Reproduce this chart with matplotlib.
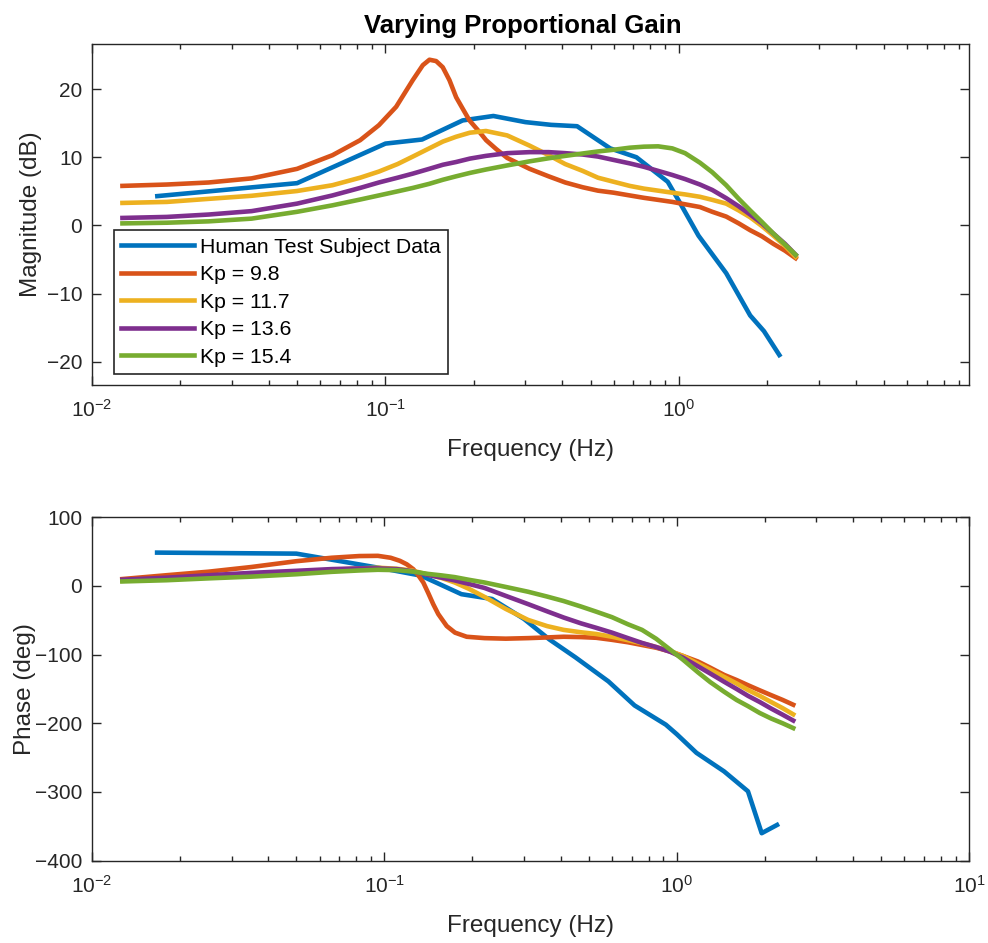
import matplotlib
matplotlib.use("Agg")
import matplotlib.pyplot as plt
from matplotlib.ticker import FixedLocator, LogLocator, NullFormatter, FixedFormatter

plt.rcParams['font.family'] = ['Liberation Sans', 'DejaVu Sans']
plt.rcParams['axes.unicode_minus'] = True
plt.rcParams['mathtext.fontset'] = 'custom'
plt.rcParams['mathtext.rm'] = 'Liberation Sans'
plt.rcParams['mathtext.it'] = 'Liberation Sans:italic'
plt.rcParams['mathtext.bf'] = 'Liberation Sans:bold'
plt.rcParams['mathtext.default'] = 'regular'

# ---------------- data ----------------
title = "Varying Proportional Gain"
series_labels = ["Human Test Subject Data", "Kp = 9.8", "Kp = 11.7", "Kp = 13.6", "Kp = 15.4"]
series_colors = ["#0072BD", "#D95319", "#EDB120", "#7E2F8E", "#77AC30"]

# human test subject (measured points)
subject_freq = [0.0167, 0.05, 0.1, 0.1333, 0.1833, 0.2333, 0.3, 0.3667, 0.45, 0.5833,
                0.7167, 0.9167, 1.0, 1.1667, 1.45, 1.75, 1.95, 2.2]
subject_mag = [4.3, 6.2, 12.0, 12.6, 15.4, 16.05, 15.15, 14.75, 14.55, 11.3,
               10.0, 6.4, 3.6, -1.5, -7.0, -13.2, -15.5, -19.0]
subject_phase = [48.5, 47, 25, 15, -12, -19, -48, -78, -104, -139,
                 -174, -202, -216, -243, -270, -299, -360, -348]

# Kp = 9.8 (read more densely around its resonance)
kp98_mag_freq = [0.0127, 0.018, 0.025, 0.035, 0.05, 0.066, 0.082, 0.095, 0.1088, 0.1239,
                 0.1341, 0.1413, 0.1489, 0.1568, 0.1653, 0.1742, 0.1835, 0.1934, 0.2092, 0.2204,
                 0.2385, 0.26, 0.31, 0.36, 0.41, 0.47, 0.53, 0.6, 0.68, 0.76,
                 0.85, 0.95, 1.05, 1.18, 1.3, 1.45, 1.6, 1.75, 1.92, 2.1, 2.3, 2.5]
kp98_mag = [5.8, 6.0, 6.3, 6.9, 8.3, 10.3, 12.5, 14.7, 17.4, 21.3,
            23.5, 24.3, 24.1, 23.2, 21.3, 18.8, 17.1, 15.4, 13.7, 12.5,
            11.2, 9.9, 8.3, 7.2, 6.3, 5.6, 5.1, 4.8, 4.4, 4.05,
            3.75, 3.45, 3.1, 2.7, 2.0, 1.3, 0.3, -0.7, -1.6, -2.7, -3.7, -4.8]
kp98_phase_freq = [0.0127, 0.018, 0.025, 0.035, 0.05, 0.066, 0.082, 0.095, 0.105, 0.113,
                   0.1192, 0.1255, 0.1305, 0.1358, 0.1413, 0.1469, 0.1528, 0.1633, 0.1743, 0.1911,
                   0.22, 0.26, 0.31, 0.36, 0.41, 0.47, 0.53, 0.6, 0.68, 0.76,
                   0.85, 0.95, 1.05, 1.18, 1.3, 1.45, 1.6, 1.75, 1.92, 2.1, 2.3, 2.5]
kp98_phase = [10, 15.6, 20.7, 27.5, 36, 41, 43.5, 43.8, 41, 36.5,
              31.5, 24.4, 15.6, 5, -10.7, -26.7, -41, -58.4, -68, -74,
              -76, -76.8, -76, -75, -74, -74.5, -75.5, -78.5, -82, -86,
              -90, -95.5, -102, -110, -119, -129.5, -137, -144.5, -152, -159, -166, -173]

# other model responses, read at these frequencies (Hz)
model_freq = [0.0127, 0.018, 0.025, 0.035, 0.05, 0.066, 0.082, 0.095, 0.11, 0.124,
              0.141, 0.157, 0.174, 0.194, 0.22, 0.26, 0.31, 0.36, 0.41, 0.47,
              0.53, 0.6, 0.68, 0.76, 0.85, 0.95, 1.05, 1.18, 1.3, 1.45,
              1.6, 1.75, 1.92, 2.1, 2.3, 2.5]

mag_kp117 = [3.3, 3.45, 3.9, 4.35, 5.05, 5.9, 7.0, 7.9, 9.0, 10.1,
             11.3, 12.3, 13.0, 13.6, 13.85, 13.2, 11.7, 10.3, 9.0, 8.0,
             7.0, 6.4, 5.8, 5.4, 5.1, 4.8, 4.55, 4.2, 3.75, 3.2,
             2.2, 1.2, -0.1, -1.5, -3.0, -4.6]
mag_kp136 = [1.1, 1.25, 1.6, 2.1, 3.2, 4.4, 5.5, 6.3, 7.0, 7.6,
             8.3, 8.9, 9.3, 9.8, 10.2, 10.6, 10.75, 10.75, 10.6, 10.4,
             10.1, 9.6, 9.1, 8.6, 8.0, 7.4, 6.8, 6.0, 5.2, 4.0,
             2.8, 1.6, 0.3, -1.2, -2.7, -4.3]
mag_kp154 = [0.3, 0.4, 0.6, 1.0, 2.0, 2.95, 3.8, 4.4, 5.0, 5.5,
             6.1, 6.7, 7.2, 7.7, 8.2, 8.8, 9.4, 9.85, 10.2, 10.55,
             10.85, 11.1, 11.4, 11.55, 11.6, 11.3, 10.6, 9.2, 7.8, 5.9,
             3.9, 2.2, 0.5, -1.2, -2.8, -4.3]

phase_kp117 = [7.5, 10.5, 14, 17.5, 20.5, 23.5, 25.5, 26.5, 25, 22.5,
               16.5, 11.5, 5, -4, -16, -33.5, -49.5, -58.5, -64, -67.5,
               -70, -74, -79, -83.5, -89, -95, -102, -113, -122, -132.5,
               -142, -151.5, -160, -169, -178, -187]
phase_kp136 = [9, 12, 15.5, 19, 22, 24.5, 25.5, 25.5, 24.5, 21.5,
               16, 12, 8, 3, -3, -14.5, -26.5, -37, -46, -54.5,
               -61, -68, -76, -83, -89, -96, -104.5, -117, -127.5, -139.5,
               -150, -160, -169, -178.5, -187.5, -196]
phase_kp154 = [6.5, 8.3, 11, 13.5, 17, 20.5, 22.5, 23.5, 23, 21,
               17.5, 15.3, 12.8, 9, 5, -1.5, -8.5, -15.5, -22, -30,
               -37.5, -45.5, -55.8, -64, -77, -93, -107.5, -125.7, -140, -154,
               -166, -175, -185, -193, -200, -207]

mag_yticks = [-20, -10, 0, 10, 20]
phase_yticks = [-400, -300, -200, -100, 0, 100]
freq_ticks = [0.01, 0.1, 1, 10]
freq_ticklabels = ['10$^{-2}$', '10$^{-1}$', '10$^{0}$', '10$^{1}$']

# ---------------- figure ----------------
fig = plt.figure(figsize=(9.88, 9.43), dpi=100)
ax1 = fig.add_axes([0.0931, 0.5917, 0.8880, 0.3616])
ax2 = fig.add_axes([0.0931, 0.0873, 0.8880, 0.3642])

LW = 3.3
mag_series = [(subject_freq, subject_mag), (kp98_mag_freq, kp98_mag),
              (model_freq, mag_kp117), (model_freq, mag_kp136), (model_freq, mag_kp154)]
phase_series = [(subject_freq, subject_phase), (kp98_phase_freq, kp98_phase),
                (model_freq, phase_kp117), (model_freq, phase_kp136), (model_freq, phase_kp154)]

for i, (f, m) in enumerate(mag_series):
    ax1.plot(f, m, color=series_colors[i], lw=LW, label=series_labels[i])
for i, (f, p) in enumerate(phase_series):
    ax2.plot(f, p, color=series_colors[i], lw=LW)

axcol = '#262626'
for ax in (ax1, ax2):
    ax.set_xscale('log')
    ax.xaxis.set_major_locator(FixedLocator(freq_ticks))
    ax.xaxis.set_major_formatter(FixedFormatter(freq_ticklabels))
    ax.xaxis.set_minor_locator(LogLocator(base=10, subs=[2, 3, 4, 5, 6, 7, 8, 9], numticks=20))
    ax.xaxis.set_minor_formatter(NullFormatter())
    ax.tick_params(which='both', direction='in', top=True, right=True, colors=axcol,
                   labelsize=15, width=1.0)
    ax.tick_params(which='major', length=6.5, pad=7)
    ax.tick_params(axis='x', which='major', pad=10)
    ax.tick_params(which='minor', length=3.5)
    for sp in ax.spines.values():
        sp.set_color(axcol)
        sp.set_linewidth(1.0)
    ax.set_xlabel('Frequency (Hz)', fontsize=17.5, color=axcol, labelpad=13)

ax1.set_xlim(0.01, 9.77)
ax1.set_ylim(-23.4, 26.6)
ax1.set_yticks(mag_yticks)
ax1.set_ylabel('Magnitude (dB)', fontsize=17.5, color=axcol)
ax1.yaxis.set_label_coords(-0.057, 0.5)
ax1.set_title(title, fontsize=18.5, fontweight='bold', pad=8, x=0.491)

ax2.set_xlim(0.01, 10)
ax2.set_ylim(-400, 100)
ax2.set_yticks(phase_yticks)
ax2.set_ylabel('Phase (deg)', fontsize=17.5, color=axcol)
ax2.yaxis.set_label_coords(-0.064, 0.5)

leg = ax1.legend(loc='lower left', bbox_to_anchor=(0.025, 0.032), borderaxespad=0,
                 fontsize=15.3, handlelength=3.4, handletextpad=0.3, labelspacing=0.4,
                 borderpad=0.35, fancybox=False, framealpha=1, edgecolor=axcol)
leg.get_frame().set_linewidth(1.2)

fig.savefig('out.png', dpi=100)
